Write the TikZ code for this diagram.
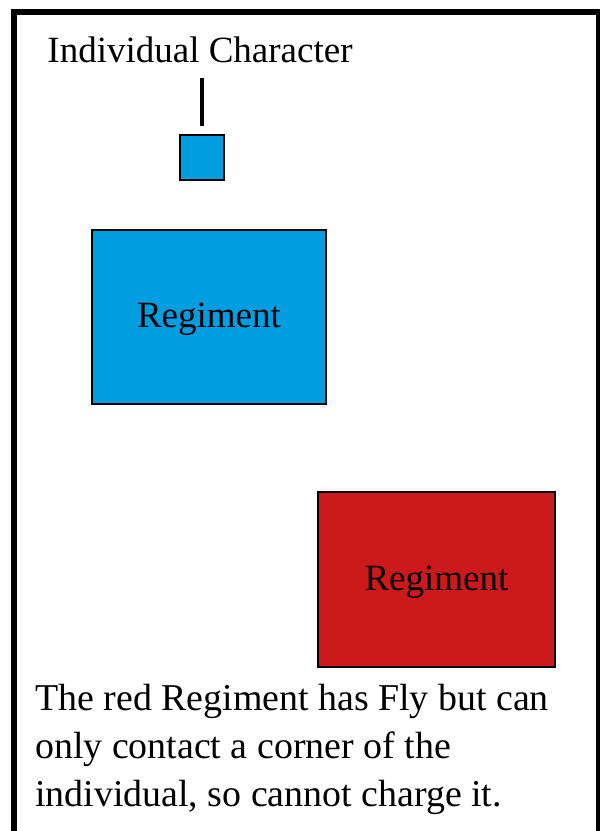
\documentclass[tikz,border=0pt]{standalone}
\usepackage{fontspec}
\setmainfont{Liberation Serif}
\usetikzlibrary{positioning}
\definecolor{unitblue}{RGB}{0,158,224}
\definecolor{unitred}{RGB}{204,25,28}
\tikzset{
  bigfont/.style={font=\fontsize{37}{48}\selectfont},
  notefont/.style={font=\fontsize{37.9}{48}\selectfont},
  unit/.style={draw=black, line width=1.3pt, inner sep=0pt, bigfont},
  regiment/.style={unit, minimum width=234pt, minimum height=174pt, text depth=3pt},
  tick/.style={line width=4pt}
}

\begin{document}
\begin{tikzpicture}[x=1pt,y=-1pt]
			%%%%% START %%%%%
			\useasboundingbox (0,0) rectangle (600,831);
			\clip (0,0) rectangle (600,831);
			
			\draw[line width=6pt] (14, 12) rectangle (599, 860);
			
			\node[bigfont, inner sep=0pt, anchor=base] (label) at (200, 62) {Individual Character};
			\node[unit, fill=unitblue, minimum width=44pt, minimum height=45pt] (indiv) at (202, 157.5) {};
			\draw[tick, shorten <=8pt, shorten >=15pt] (indiv.north) -- (indiv.north |- label.south);
			
			\node[regiment, fill=unitblue] (blue) at (209, 317) {Regiment};
			\node[regiment, fill=unitred, minimum width=237pt, minimum height=175pt] (red) at (436.5, 579.5) {Regiment};
			
			% base of a multi-line node is the last line
			\node[notefont, inner sep=0pt, anchor=base west, align=left] (note) at (35, 806)
			{The red Regiment has Fly but can\\only contact a corner of the\\individual, so cannot charge it.};
			
			%%%%% END %%%%%
\end{tikzpicture}
\end{document}
